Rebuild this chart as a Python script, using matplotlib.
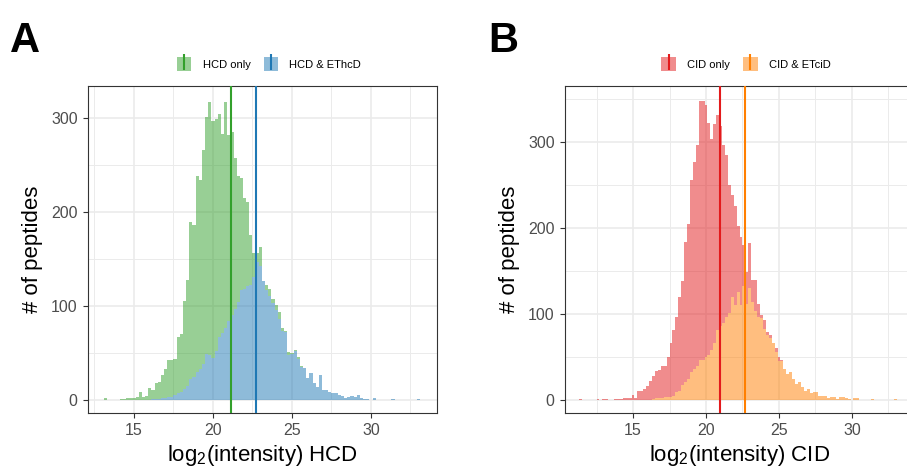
import matplotlib
matplotlib.use("Agg")
import matplotlib.pyplot as plt
import numpy as np
from matplotlib.patches import Patch
from matplotlib.lines import Line2D
from matplotlib.ticker import MultipleLocator

plt.rcParams['font.family'] = ['Liberation Sans', 'DejaVu Sans']
plt.rcParams['mathtext.fontset'] = 'custom'
plt.rcParams['mathtext.rm'] = 'Liberation Sans'
plt.rcParams['mathtext.it'] = 'Liberation Sans:italic'
plt.rcParams['mathtext.default'] = 'regular'

# ---------------- data (histogram counts, bin width 0.2) ----------------
bin_width = 0.2

# Panel A: bins start at 13.1
hcd_bin_start = 13.1
hcd_only = [
    2, 0, 0, 0, 0, 1, 1, 2, 2, 2,
    3, 8, 3, 4, 13, 10, 17, 18, 25, 31,
    39, 40, 39, 60, 61, 93, 112, 167, 162, 208,
    201, 228, 252, 269, 251, 246, 237, 211, 241, 197,
    195, 160, 134, 119, 97, 89, 53, 25, 9, 20,
    0, 5, 8, 4, 5, 8, 3, 1, 3, 1,
    1, 2, 1, 0, 0, 0, 0, 0, 0, 0,
    0, 0, 0, 0, 0, 0, 0, 0, 0, 0,
    0, 0, 0, 0, 0, 0, 0, 0, 0, 0,
    0, 0, 0, 0, 0, 0, 0, 0, 0, 0,
    0, 0,
]
hcd_ethcd = [
    0, 0, 0, 0, 0, 0, 0, 0, 0, 0,
    0, 0, 0, 0, 0, 1, 1, 1, 2, 2,
    3, 3, 5, 7, 9, 12, 15, 22, 24, 30,
    33, 38, 49, 48, 45, 52, 67, 71, 76, 84,
    90, 97, 104, 117, 118, 121, 122, 131, 147, 142,
    126, 117, 110, 103, 96, 86, 73, 72, 48, 49,
    52, 44, 35, 34, 23, 29, 18, 14, 27, 11,
    11, 8, 7, 7, 5, 4, 2, 3, 4, 3,
    5, 2, 1, 1, 0, 2, 0, 0, 0, 0,
    0, 1, 0, 0, 0, 0, 0, 0, 0, 1,
    0, 0,
]

# Panel B: bins start at 11.3
cid_bin_start = 11.3
cid_only = [
    1, 0, 0, 0, 0, 0, 1, 0, 1, 1,
    0, 0, 1, 1, 1, 2, 2, 2, 6, 2,
    10, 10, 13, 16, 22, 27, 32, 33, 37, 36,
    47, 62, 76, 88, 109, 121, 163, 180, 223, 241,
    258, 301, 300, 293, 270, 245, 255, 250, 232, 207,
    189, 149, 118, 116, 76, 80, 48, 37, 53, 25,
    36, 15, 4, 11, 4, 3, 0, 4, 5, 1,
    0, 0, 0, 0, 0, 0, 0, 0, 0, 0,
    0, 0, 0, 0, 0, 0, 0, 0, 0, 0,
    0, 0, 0, 0, 0, 0, 0, 0, 0, 0,
    0, 0, 0, 0, 0, 0, 0, 0, 0, 0,
    0,
]
cid_etcid = [
    0, 0, 0, 0, 0, 0, 0, 0, 0, 0,
    0, 0, 0, 0, 0, 0, 0, 0, 0, 0,
    0, 0, 0, 0, 0, 1, 2, 2, 2, 3,
    3, 4, 5, 9, 11, 17, 21, 25, 33, 36,
    39, 46, 47, 50, 52, 58, 66, 81, 86, 90,
    96, 101, 120, 110, 126, 110, 132, 112, 130, 114,
    103, 97, 95, 82, 75, 72, 66, 56, 45, 45,
    36, 30, 33, 24, 19, 21, 15, 10, 13, 8,
    9, 9, 5, 5, 5, 2, 4, 4, 1, 4,
    4, 2, 1, 0, 2, 2, 0, 0, 0, 0,
    1, 0, 0, 0, 0, 0, 0, 0, 1, 0,
    0,
]

# group medians (vertical lines)
hcd_only_median = 21.12
hcd_ethcd_median = 22.70
cid_only_median = 20.98
cid_etcid_median = 22.67

labels_a = ["HCD only", "HCD & EThcD"]
labels_b = ["CID only", "CID & ETciD"]

# colours (Paired dark tones)
c_green = "#33A02C"
c_blue = "#1F78B4"
c_red = "#E31A1C"
c_orange = "#FF7F00"

W, H = 907, 468
fig = plt.figure(figsize=(W / 100, H / 100), dpi=100)


def px_axes(left, top, right, bottom):
    return fig.add_axes([left / W, 1 - bottom / H, (right - left) / W, (bottom - top) / H])


def draw_panel(ax, start, top_vals, bottom_vals, c_top, c_bot, med_top, med_bot,
               xlim, ylim, xlabel):
    n = len(bottom_vals)
    edges = start + bin_width * np.arange(n + 1)
    b = np.asarray(bottom_vals, float)
    t = np.asarray(top_vals, float)
    ax.stairs(b, edges, baseline=0, fill=True, facecolor=c_bot, alpha=0.5,
              linewidth=0, zorder=2)
    ax.stairs(b + t, edges, baseline=b, fill=True, facecolor=c_top, alpha=0.5,
              linewidth=0, zorder=2)
    ax.axvline(med_top, color=c_top, lw=1.5, zorder=3)
    ax.axvline(med_bot, color=c_bot, lw=1.5, zorder=3)
    ax.set_xlim(*xlim)
    ax.set_ylim(*ylim)
    ax.xaxis.set_major_locator(MultipleLocator(5))
    ax.xaxis.set_minor_locator(MultipleLocator(2.5))
    ax.yaxis.set_major_locator(MultipleLocator(100))
    ax.yaxis.set_minor_locator(MultipleLocator(50))
    ax.set_axisbelow(True)
    ax.grid(which='major', color='#EBEBEB', lw=1.2, zorder=0)
    ax.grid(which='minor', color='#EBEBEB', lw=0.7, zorder=0)
    ax.tick_params(which='minor', length=0)
    ax.tick_params(which='major', length=3.5, width=0.8, color='#333333',
                   labelcolor='#4D4D4D', labelsize=11.5, pad=4)
    for s in ax.spines.values():
        s.set_color('#333333')
        s.set_linewidth(0.8)
    ax.set_xlabel(xlabel, fontsize=16, labelpad=3)
    ax.set_ylabel('# of peptides', fontsize=16, labelpad=6)


axA = px_axes(88, 86, 437, 413)
draw_panel(axA, hcd_bin_start, hcd_only, hcd_ethcd, c_green, c_blue,
           hcd_only_median, hcd_ethcd_median, (12.09, 34.18), (-13.8, 333.5),
           'log$_2$(intensity) HCD')

axB = px_axes(565, 86, 914, 413)
draw_panel(axB, cid_bin_start, cid_only, cid_etcid, c_red, c_orange,
           cid_only_median, cid_etcid_median, (10.34, 34.25), (-15.1, 365),
           'log$_2$(intensity) CID')


def legend(labels, colors, cx):
    handles = []
    for c in colors:
        handles.append((Patch(facecolor=c, alpha=0.5, edgecolor='none'),
                        Line2D([], [], color=c, marker='|', linestyle='None',
                               markersize=12, markeredgewidth=1.5)))
    fig.legend(handles, labels, loc='center', bbox_to_anchor=(cx / W, 1 - 64 / H),
               ncol=2, frameon=False, fontsize=8, handlelength=1.3,
               handleheight=1.5, handletextpad=1.0, columnspacing=1.2)


legend(labels_a, [c_green, c_blue], 269)
legend(labels_b, [c_red, c_orange], 746)

fig.text(10 / W, 1 - 52 / H, 'A', fontsize=30, fontweight='bold', va='baseline')
fig.text(488 / W, 1 - 52 / H, 'B', fontsize=30, fontweight='bold', va='baseline')

fig.savefig('out.png', dpi=100)
